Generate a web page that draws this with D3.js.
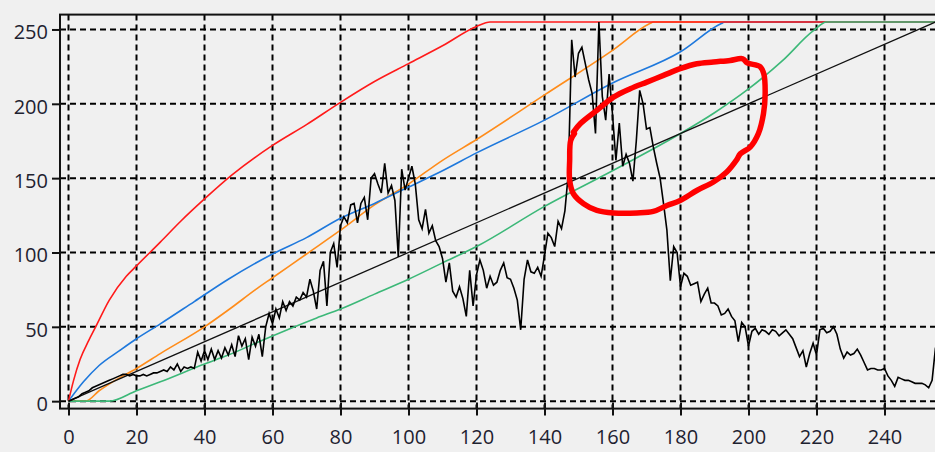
<!DOCTYPE html>
<html>
<head>
<meta charset="utf-8">
<script src="https://cdn.jsdelivr.net/npm/d3@7"></script>
<style>
  html, body { margin: 0; padding: 0; background: #f0f0f0; }
  svg { display: block; }
  .tick-label { font-family: "Segoe UI", "Open Sans", "Noto Sans", sans-serif; font-size: 20px; fill: #1e2230; }
</style>
</head>
<body>
<svg id="chart" width="935" height="452"></svg>
<script>
// tick labels
const xTickValues = [0, 20, 40, 60, 80, 100, 120, 140, 160, 180, 200, 220, 240];
const yTickValues = [0, 50, 100, 150, 200, 250];

// tone curves, [input, output]
const redCurve = [[0, 0], [1.5, 14], [3.4, 28], [6, 41], [8, 50], [12, 68], [17, 84], [20, 91], [27, 107], [33, 121],
  [40, 136], [48, 152], [60, 172], [70, 186], [80, 201], [90, 215], [100, 227], [110, 239], [120, 252], [124, 255], [255, 255]];
const orangeCurve = [[0, 0], [5, 0], [9, 7], [13, 13], [20, 22], [27, 32], [40, 50], [48, 63], [55, 75], [60, 83],
  [70, 99], [80, 115], [90, 132], [100, 146], [110, 162], [120, 176], [140, 206], [160, 236], [171, 254], [172, 255], [255, 255]];
const blueCurve = [[0, 0], [4.4, 13], [9, 24], [15, 34], [20, 42], [27, 52], [37, 67], [47, 82], [60, 99], [70, 110],
  [80, 123], [90, 133], [100, 144], [110, 155], [120, 167], [140, 189], [160, 214], [180, 235], [192, 254], [193, 255], [255, 255]];
const greenCurve = [[0, 0], [12, 0], [20, 7], [27, 13], [40, 25], [47, 31], [56, 40], [73, 56], [80, 62], [90, 72],
  [100, 82], [110, 93], [120, 104], [140, 131], [160, 155], [180, 180], [190, 194], [200, 210], [210, 229], [219, 249], [223, 255], [255, 255]];
const identityLine = [[0, 0], [255, 255]];

// histogram, one value per level 0..255
const histogram = [
  0, 1, 2, 3, 5, 6, 7, 9, 10, 11,
  12, 13, 14, 15, 16, 17, 18, 18, 17, 18,
  17, 17, 18, 17, 18, 19, 19, 20, 21, 20,
  23, 21, 25, 20, 23, 22, 23, 22, 33, 27,
  34, 28, 35, 28, 34, 29, 36, 31, 38, 30,
  44, 37, 42, 28, 43, 37, 45, 30, 50, 59,
  52, 62, 56, 67, 61, 67, 64, 70, 68, 73,
  70, 82, 74, 62, 88, 94, 64, 100, 106, 90,
  118, 124, 120, 132, 133, 120, 133, 137, 122, 150,
  153, 146, 140, 160, 140, 145, 135, 97, 156, 142,
  150, 158, 146, 122, 116, 129, 113, 118, 108, 104,
  96, 80, 93, 74, 70, 77, 69, 57, 88, 64,
  85, 95, 88, 76, 84, 78, 80, 88, 93, 83,
  82, 76, 68, 48, 82, 95, 87, 86, 90, 84,
  98, 113, 110, 104, 121, 116, 128, 153, 243, 218,
  234, 238, 227, 216, 207, 180, 255, 205, 189, 220,
  193, 162, 187, 158, 166, 160, 148, 175, 209, 200,
  183, 184, 171, 160, 150, 133, 115, 81, 104, 100,
  77, 86, 84, 78, 79, 80, 67, 72, 76, 66,
  66, 64, 58, 59, 62, 57, 54, 40, 53, 50,
  37, 47, 49, 45, 48, 47, 45, 48, 47, 44,
  46, 48, 45, 42, 36, 30, 34, 23, 32, 39,
  31, 48, 49, 46, 47, 50, 45, 35, 29, 33,
  31, 32, 35, 31, 26, 21, 22, 22, 21, 21,
  22, 17, 14, 10, 16, 15, 14, 14, 13, 12,
  12, 12, 11, 9, 14, 36
];

// hand drawn annotation loop, in data units
const markLoop = [[148.5, 181], [150.5, 186.6], [155.4, 195.6], [160.3, 204.5], [165.2, 210.1], [170.1, 214.6],
  [175, 219.1], [179.9, 223.6], [184.8, 226.9], [189.7, 228.1], [194.6, 229.2], [198.3, 230.3], [199.6, 227.6],
  [203.4, 225], [204.5, 220.2], [204.9, 206.8], [204.4, 193.3], [202.9, 179.9], [200.5, 170.9], [197.6, 166.4],
  [196.4, 161.9], [193.6, 154.1], [189.7, 147.4], [184.8, 141.7], [179.9, 135], [176, 131.6], [172, 127.6],
  [167.2, 126.6], [160.3, 126.6], [155.4, 128.3], [151.5, 132.8], [148.5, 139.5], [147.4, 148.5],
  [147.4, 161.9], [147.7, 175.4], [148.8, 180]];

const svg = d3.select("#chart");
const width = 935, height = 452;

svg.append("rect").attr("width", width).attr("height", height).attr("fill", "#f0f0f0");

const x = d3.scaleLinear().domain([-2.5, 257.5]).range([60, 944]);
const y = d3.scaleLinear().domain([-5, 260]).range([408.6, 14.6]);

const plot = { left: x.range()[0], right: x.range()[1], top: y.range()[1], bottom: y.range()[0] };

// grid
const grid = svg.append("g").attr("class", "grid")
  .attr("stroke", "#000").attr("stroke-width", 2).attr("stroke-dasharray", "6,4");

grid.selectAll("line.v").data(xTickValues).join("line")
  .attr("class", "v")
  .attr("x1", (d) => x(d)).attr("x2", (d) => x(d))
  .attr("y1", plot.top).attr("y2", plot.bottom);

grid.selectAll("line.h").data(yTickValues).join("line")
  .attr("class", "h")
  .attr("y1", (d) => y(d)).attr("y2", (d) => y(d))
  .attr("x1", plot.left).attr("x2", plot.right);

// frame
svg.append("rect")
  .attr("x", plot.left).attr("y", plot.top)
  .attr("width", plot.right - plot.left).attr("height", plot.bottom - plot.top)
  .attr("fill", "none").attr("stroke", "#111").attr("stroke-width", 2);

// axes
const xAxis = d3.axisBottom(x).tickValues(xTickValues).tickSize(7).tickPadding(10).tickSizeOuter(0);
const yAxis = d3.axisLeft(y).tickValues(yTickValues).tickSize(8).tickPadding(4).tickSizeOuter(0);

const gx = svg.append("g").attr("transform", `translate(0,${plot.bottom})`).call(xAxis);
const gy = svg.append("g").attr("transform", `translate(${plot.left},0)`).call(yAxis);

[gx, gy].forEach((g) => {
  g.select(".domain").remove();
  g.selectAll(".tick line").attr("stroke", "#111").attr("stroke-width", 2);
  g.selectAll(".tick text").attr("class", "tick-label").attr("fill", null);
});
gx.selectAll(".tick line").attr("y1", -6).attr("y2", 7);
gx.selectAll(".tick text").attr("dy", null).attr("y", 35);
gy.selectAll(".tick text").attr("dy", null).attr("y", 9.5);

// curves
const line = d3.line().x((d) => x(d[0])).y((d) => y(d[1])).curve(d3.curveMonotoneX);

const curves = [
  { data: orangeCurve, color: "#ff8c1a", w: 1.6 },
  { data: blueCurve, color: "#1e78dc", w: 1.6 },
  { data: redCurve, color: "#ff1a1a", w: 1.6 },
  { data: greenCurve, color: "#3cb878", w: 1.6 },
  { data: identityLine, color: "#111", w: 1.3 },
];

svg.append("g").attr("class", "curves")
  .selectAll("path").data(curves).join("path")
  .attr("fill", "none")
  .attr("stroke", (d) => d.color)
  .attr("stroke-width", (d) => d.w)
  .attr("d", (d) => line(d.data));

const histLine = d3.line().x((d, i) => x(i)).y((d) => y(d));

svg.append("path")
  .datum(histogram)
  .attr("fill", "none")
  .attr("stroke", "#000")
  .attr("stroke-width", 1.6)
  .attr("stroke-linejoin", "miter")
  .attr("d", histLine);

// red marker loop
const loopLine = d3.line().x((d) => x(d[0])).y((d) => y(d[1])).curve(d3.curveCatmullRom);

svg.append("path")
  .datum(markLoop)
  .attr("fill", "none")
  .attr("stroke", "#ff0000")
  .attr("stroke-width", 5.5)
  .attr("stroke-linecap", "round")
  .attr("stroke-linejoin", "round")
  .attr("d", loopLine);
</script>
</body>
</html>
